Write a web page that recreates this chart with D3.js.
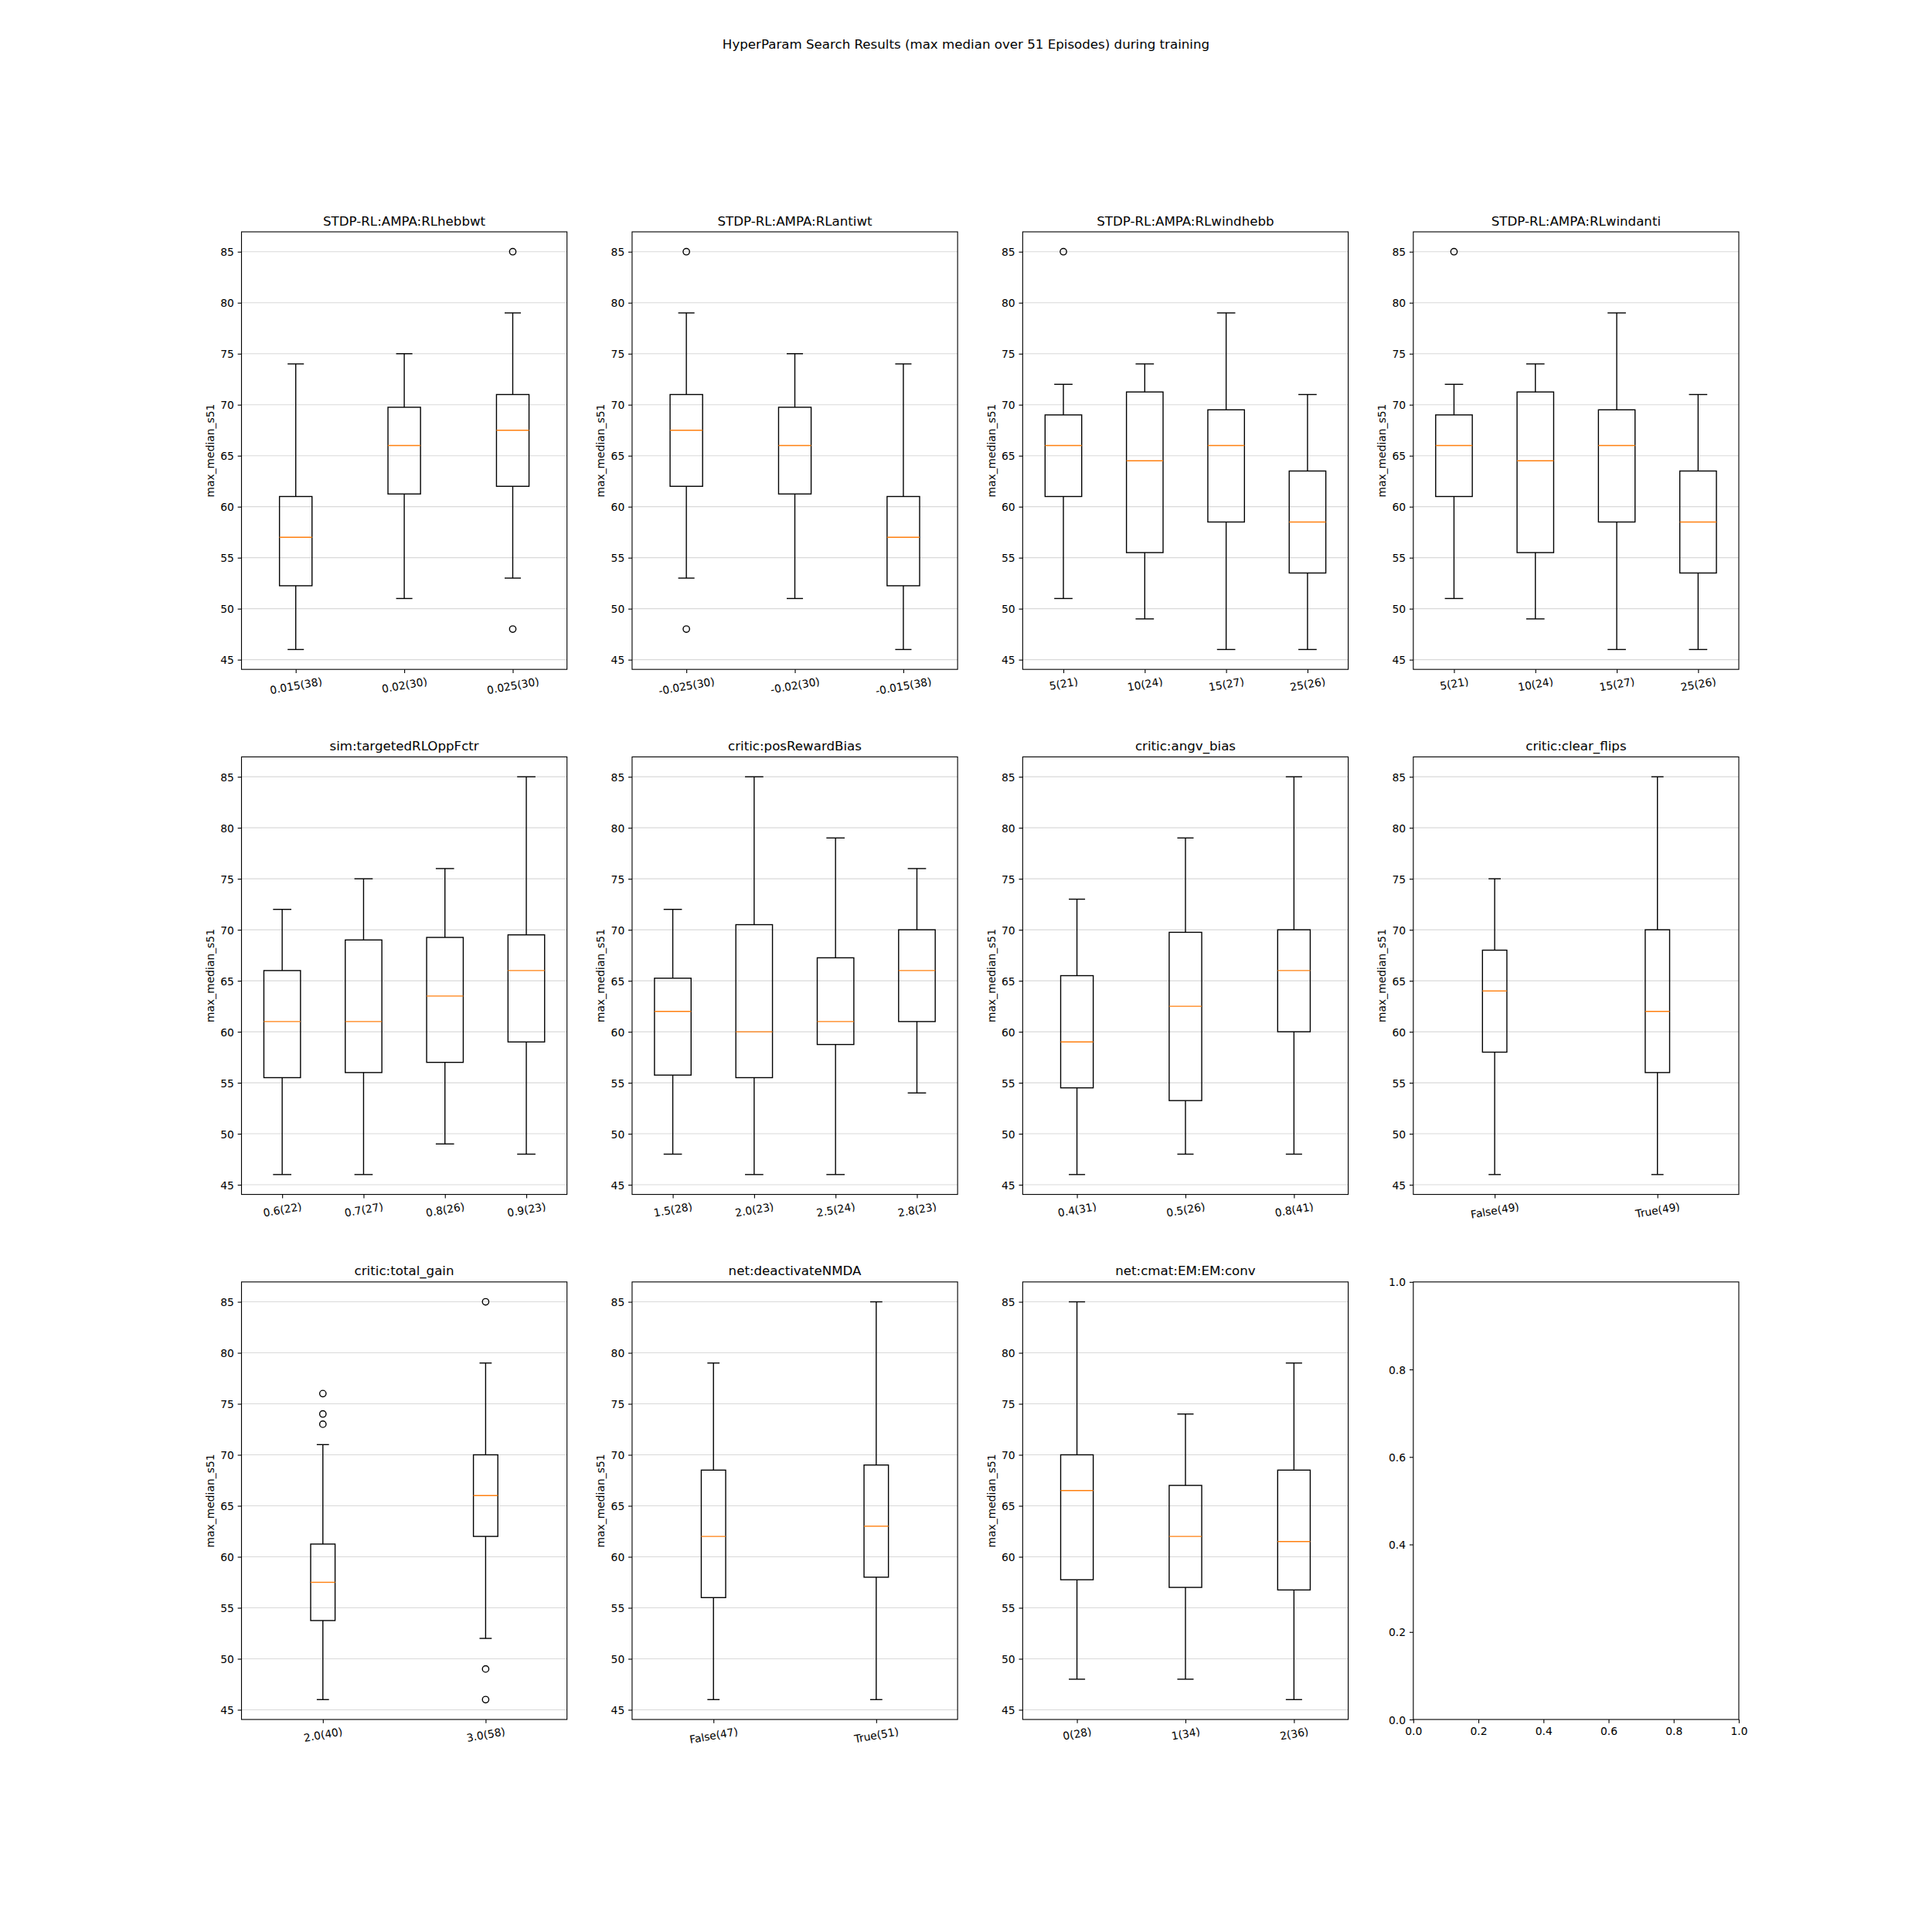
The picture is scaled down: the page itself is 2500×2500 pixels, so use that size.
<!DOCTYPE html>
<html>
<head>
<meta charset="utf-8">
<script src="https://cdn.jsdelivr.net/npm/d3@7"></script>
<style>
  html, body { margin: 0; padding: 0; background: #ffffff; }
  text { font-family: "DejaVu Sans", sans-serif; fill: #000; }
</style>
</head>
<body>
<svg id="chart" width="2500" height="2500"></svg>
<script>
// ---------------- data ----------------
const suptitle = "HyperParam Search Results (max median over 51 Episodes) during training";
const yLabel = "max_median_s51";
const yTicks = [45, 50, 55, 60, 65, 70, 75, 80, 85];
const emptyTicks = [0, 0.2, 0.4, 0.6, 0.8, 1.0];

const panelTitles = [
  "STDP-RL:AMPA:RLhebbwt", "STDP-RL:AMPA:RLantiwt", "STDP-RL:AMPA:RLwindhebb", "STDP-RL:AMPA:RLwindanti",
  "sim:targetedRLOppFctr", "critic:posRewardBias", "critic:angv_bias", "critic:clear_flips",
  "critic:total_gain", "net:deactivateNMDA", "net:cmat:EM:EM:conv"
];

const panelLabels = [
  ["0.015(38)", "0.02(30)", "0.025(30)"],
  ["-0.025(30)", "-0.02(30)", "-0.015(38)"],
  ["5(21)", "10(24)", "15(27)", "25(26)"],
  ["5(21)", "10(24)", "15(27)", "25(26)"],
  ["0.6(22)", "0.7(27)", "0.8(26)", "0.9(23)"],
  ["1.5(28)", "2.0(23)", "2.5(24)", "2.8(23)"],
  ["0.4(31)", "0.5(26)", "0.8(41)"],
  ["False(49)", "True(49)"],
  ["2.0(40)", "3.0(58)"],
  ["False(47)", "True(51)"],
  ["0(28)", "1(34)", "2(36)"]
];

const whiskerLo = [
  [46, 51, 53], [53, 51, 46], [51, 49, 46, 46], [51, 49, 46, 46],
  [46, 46, 49, 48], [48, 46, 46, 54], [46, 48, 48], [46, 46],
  [46, 52], [46, 46], [48, 48, 46]
];
const q1 = [
  [52.25, 61.25, 62], [62, 61.25, 52.25], [61, 55.5, 58.5, 53.5], [61, 55.5, 58.5, 53.5],
  [55.5, 56, 57, 59], [55.75, 55.5, 58.75, 61], [54.5, 53.25, 60], [58, 56],
  [53.75, 62], [56, 58], [57.75, 57, 56.75]
];
const medians = [
  [57, 66, 67.5], [67.5, 66, 57], [66, 64.5, 66, 58.5], [66, 64.5, 66, 58.5],
  [61, 61, 63.5, 66], [62, 60, 61, 66], [59, 62.5, 66], [64, 62],
  [57.5, 66], [62, 63], [66.5, 62, 61.5]
];
const q3 = [
  [61, 69.75, 71], [71, 69.75, 61], [69, 71.25, 69.5, 63.5], [69, 71.25, 69.5, 63.5],
  [66, 69, 69.25, 69.5], [65.25, 70.5, 67.25, 70], [65.5, 69.75, 70], [68, 70],
  [61.25, 70], [68.5, 69], [70, 67, 68.5]
];
const whiskerHi = [
  [74, 75, 79], [79, 75, 74], [72, 74, 79, 71], [72, 74, 79, 71],
  [72, 75, 76, 85], [72, 85, 79, 76], [73, 79, 85], [75, 85],
  [71, 79], [79, 85], [85, 74, 79]
];
const fliers = [
  [[], [], [85, 48]], [[85, 48], [], []], [[85], [], [], []], [[85], [], [], []],
  [[], [], [], []], [[], [], [], []], [[], [], []], [[], []],
  [[76, 74, 73], [85, 49, 46]], [[], []], [[], [], []]
];

// ---------------- layout ----------------
const svg = d3.select("#chart");
const figW = 2500, figH = 2500;
const nCols = 4, nRows = 3;
const axW = (0.775 * figW) / (nCols + (nCols - 1) * 0.2);
const axH = (0.77 * figH) / (nRows + (nRows - 1) * 0.2);
const left0 = 0.125 * figW, top0 = (1 - 0.88) * figH;

const tickFs = 13.89, titleFs = 16.67;
const tickLen = 4.86, tickPad = 4.86;
const lw = 1.39, spineW = 1.11;
const orange = "#ff7f0e";
const yDomain = [46 - 0.05 * 39, 85 + 0.05 * 39];

svg.append("rect").attr("width", figW).attr("height", figH).attr("fill", "#fff");

svg.append("text")
  .attr("x", figW / 2).attr("y", 0.02 * figH + 0.76 * titleFs)
  .attr("text-anchor", "middle")
  .style("font-size", titleFs + "px")
  .text(suptitle);

function boxWidthFor(n) {
  return Math.max(0.15, Math.min(0.15 * Math.max(n - 1, 1), 0.5));
}

for (let p = 0; p < 12; p++) {
  const r = Math.floor(p / nCols), c = p % nCols;
  const L = left0 + c * axW * 1.2;
  const T = top0 + r * axH * 1.2;
  const R = L + axW, B = T + axH;
  const g = svg.append("g");

  if (p >= panelTitles.length) {
    // empty axes
    const x = d3.scaleLinear().domain([0, 1]).range([L, R]);
    const y = d3.scaleLinear().domain([0, 1]).range([B, T]);
    const xa = g.append("g").attr("transform", `translate(0,${B})`)
      .call(d3.axisBottom(x).tickValues(emptyTicks).tickFormat(d3.format(".1f")).tickSize(tickLen).tickPadding(tickPad));
    const ya = g.append("g").attr("transform", `translate(${L},0)`)
      .call(d3.axisLeft(y).tickValues(emptyTicks).tickFormat(d3.format(".1f")).tickSize(tickLen).tickPadding(tickPad));
    [xa, ya].forEach(a => {
      a.select(".domain").remove();
      a.selectAll("line").attr("stroke", "#000").attr("stroke-width", spineW);
      a.selectAll("text").style("font-size", tickFs + "px").attr("fill", "#000");
    });
    xa.selectAll("text").attr("dy", null).attr("y", tickLen + tickPad + 0.76 * tickFs);
    ya.selectAll("text").attr("dy", null).attr("y", 0.36 * tickFs);
    g.append("rect").attr("x", L).attr("y", T).attr("width", axW).attr("height", axH)
      .attr("fill", "none").attr("stroke", "#000").attr("stroke-width", spineW);
    continue;
  }

  const labels = panelLabels[p];
  const n = labels.length;
  const idx = d3.range(1, n + 1);
  const x = d3.scaleLinear().domain([0.5, n + 0.5]).range([L, R]);
  const y = d3.scaleLinear().domain(yDomain).range([B, T]);
  const bw = boxWidthFor(n);

  // grid
  g.append("g").selectAll("line").data(yTicks).join("line")
    .attr("x1", L).attr("x2", R)
    .attr("y1", d => y(d)).attr("y2", d => y(d))
    .attr("stroke", "#d9d9d9").attr("stroke-width", 1.11);

  // y axis
  const ya = g.append("g").attr("transform", `translate(${L},0)`)
    .call(d3.axisLeft(y).tickValues(yTicks).tickFormat(d3.format("d")).tickSize(tickLen).tickPadding(tickPad));
  ya.select(".domain").remove();
  ya.selectAll("line").attr("stroke", "#000").attr("stroke-width", spineW);
  ya.selectAll("text").style("font-size", tickFs + "px").attr("fill", "#000")
    .attr("dy", null).attr("y", 0.36 * tickFs);
  let maxW = 0;
  ya.selectAll("text").each(function () { maxW = Math.max(maxW, this.getComputedTextLength()); });

  // y label
  const ylx = L - tickLen - tickPad - maxW - 5.56 - 0.208 * tickFs;
  g.append("text")
    .attr("transform", `translate(${ylx},${(T + B) / 2}) rotate(-90)`)
    .attr("text-anchor", "middle")
    .style("font-size", tickFs + "px")
    .text(yLabel);

  // x axis ticks
  const xa = g.append("g").attr("transform", `translate(0,${B})`)
    .call(d3.axisBottom(x).tickValues(idx).tickFormat(d => labels[d - 1]).tickSize(tickLen).tickPadding(tickPad));
  xa.select(".domain").remove();
  xa.selectAll("line").attr("stroke", "#000").attr("stroke-width", spineW);
  const ang = 10 * Math.PI / 180;
  const lineH = 0.968 * tickFs;
  xa.selectAll(".tick text").each(function (d) {
    const t = d3.select(this).style("font-size", tickFs + "px").attr("fill", "#000");
    const w = this.getComputedTextLength();
    const bh = w * Math.sin(ang) + lineH * Math.cos(ang);
    const cy = tickLen + tickPad + bh / 2;
    t.attr("dy", null).attr("y", 0.276 * tickFs).attr("x", 0)
      .attr("text-anchor", "middle")
      .attr("transform", `translate(0,${cy}) rotate(-10)`);
  });

  // boxes
  const bg = g.append("g");
  idx.forEach((k, i) => {
    const cx = x(k);
    const half = (x(k + bw / 2) - x(k - bw / 2)) / 2;
    const capHalf = half / 2;
    // whiskers
    bg.append("line").attr("x1", cx).attr("x2", cx).attr("y1", y(q1[p][i])).attr("y2", y(whiskerLo[p][i]))
      .attr("stroke", "#000").attr("stroke-width", lw);
    bg.append("line").attr("x1", cx).attr("x2", cx).attr("y1", y(q3[p][i])).attr("y2", y(whiskerHi[p][i]))
      .attr("stroke", "#000").attr("stroke-width", lw);
    // caps
    [whiskerLo[p][i], whiskerHi[p][i]].forEach(v => {
      bg.append("line").attr("x1", cx - capHalf).attr("x2", cx + capHalf).attr("y1", y(v)).attr("y2", y(v))
        .attr("stroke", "#000").attr("stroke-width", lw);
    });
    // box
    bg.append("rect").attr("x", cx - half).attr("y", y(q3[p][i]))
      .attr("width", 2 * half).attr("height", y(q1[p][i]) - y(q3[p][i]))
      .attr("fill", "none").attr("stroke", "#000").attr("stroke-width", lw);
    // median
    bg.append("line").attr("x1", cx - half).attr("x2", cx + half).attr("y1", y(medians[p][i])).attr("y2", y(medians[p][i]))
      .attr("stroke", orange).attr("stroke-width", lw);
    // fliers
    bg.selectAll(null).data(fliers[p][i]).enter().append("circle")
      .attr("cx", cx).attr("cy", v => y(v)).attr("r", 4.17)
      .attr("fill", "none").attr("stroke", "#000").attr("stroke-width", lw);
  });

  // spines
  g.append("rect").attr("x", L).attr("y", T).attr("width", axW).attr("height", axH)
    .attr("fill", "none").attr("stroke", "#000").attr("stroke-width", spineW);

  // title
  g.append("text")
    .attr("x", (L + R) / 2).attr("y", T - 8.33)
    .attr("text-anchor", "middle")
    .style("font-size", titleFs + "px")
    .text(panelTitles[p]);
}
</script>
</body>
</html>
